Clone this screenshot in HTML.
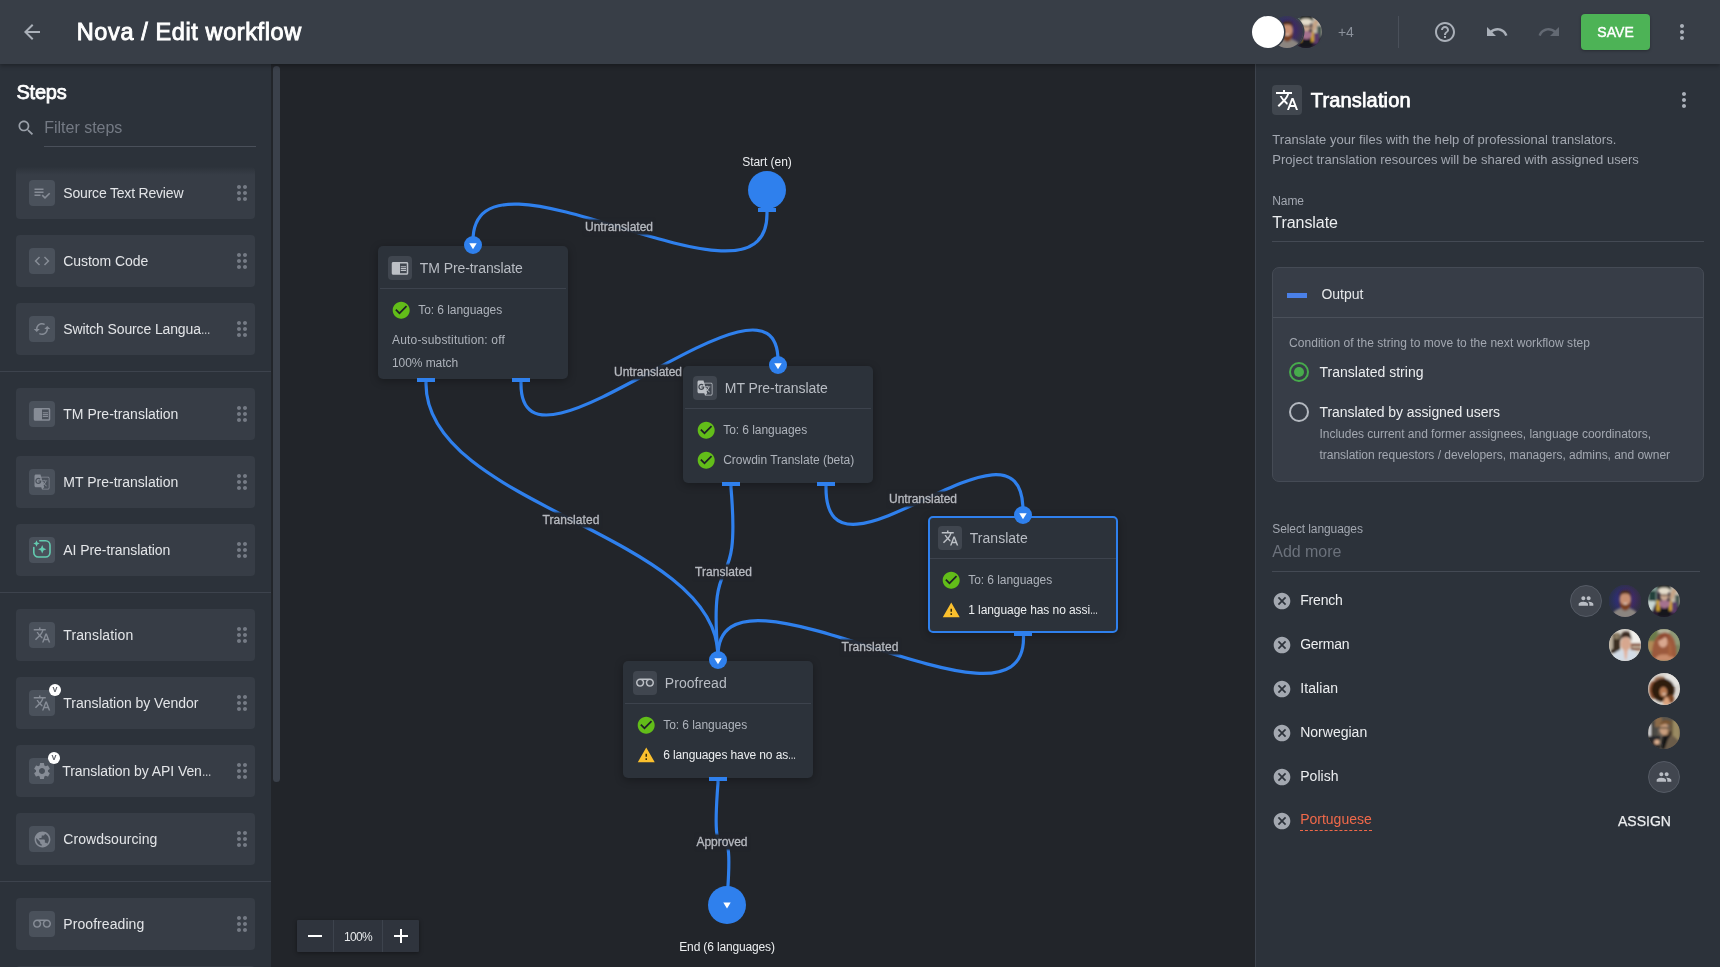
<!DOCTYPE html>
<html lang="en"><head><meta charset="utf-8"><title>Nova / Edit workflow</title>
<style>
html,body{margin:0;padding:0}
body{width:1720px;height:967px;overflow:hidden;position:relative;background:#22252a;font-family:"Liberation Sans",sans-serif;}
.abs,.t,.ic,.box{position:absolute}
.t{white-space:nowrap;line-height:20px;height:20px}
.ic{display:block;overflow:visible}
.el{display:inline-block;width:.677em;letter-spacing:0;transform:scaleX(.677);transform-origin:0 50%}
#header{left:0;top:0;width:1720px;height:64px;background:#383e47;box-shadow:0 2px 4px rgba(0,0,0,.28);z-index:5}
#left{left:0;top:64px;width:271px;height:903px;background:#2c323a;overflow:hidden}
#lscroll{left:271px;top:64px;width:9px;height:903px;background:transparent}
#lthumb{left:273px;top:66px;width:7px;height:716px;background:#3b414b;border-radius:4px}
#right{left:1255px;top:64px;width:465px;height:903px;background:#2c323a;border-left:1px solid #3d434d;box-sizing:border-box}
.item{left:16px;width:239px;height:52px;background:#373d46;border-radius:4px}
.ibox{background:#4a515b;border-radius:4px}
.sep{left:0;width:271px;height:1px;background:#3d434d}
.node{background:#2c323a;border-radius:5px;box-shadow:0 2px 8px rgba(0,0,0,.3);box-sizing:border-box}
.ndiv{height:1px;background:#3d434d}
.port{height:4px;width:18px;background:#2f80ed}
.av{width:32px;height:32px;border-radius:50%;overflow:hidden}
</style></head><body>
<div id="root" style="position:absolute;left:0;top:0;width:1720px;height:967px;will-change:transform">
<svg width="0" height="0" style="position:absolute"><defs><filter id="bl" x="-10%" y="-10%" width="120%" height="120%"><feGaussianBlur stdDeviation="0.9"/></filter></defs></svg>

<svg class="abs" style="left:0;top:0" width="1720" height="967" viewBox="0 0 1720 967">
<path d="M767,209 L767,214 C767,330 473,125 473,241 L473,246" fill="none" stroke="#2f80ed" stroke-width="3.2" stroke-linecap="butt" stroke-linejoin="round"/>
<path d="M521,379 L521,384 C521,500 778,245 778,361 L778,366" fill="none" stroke="#2f80ed" stroke-width="3.2" stroke-linecap="butt" stroke-linejoin="round"/>
<path d="M426,379 L426,384 C426,506 718,534 718,656 L718,661" fill="none" stroke="#2f80ed" stroke-width="3.2" stroke-linecap="butt" stroke-linejoin="round"/>
<path d="M731,483 L731,488 C741,606 708,538 718,656 L718,661" fill="none" stroke="#2f80ed" stroke-width="3.2" stroke-linecap="butt" stroke-linejoin="round"/>
<path d="M826,483 L826,488 C826,604 1023,395 1023,511 L1023,516" fill="none" stroke="#2f80ed" stroke-width="3.2" stroke-linecap="butt" stroke-linejoin="round"/>
<path d="M1023.5,633 L1023.5,638 C1023.5,753 718,541 718,656 L718,661" fill="none" stroke="#2f80ed" stroke-width="3.2" stroke-linecap="butt" stroke-linejoin="round"/>
<path d="M718,778 L718,783 C709,899 736,784 727,900 L727,905" fill="none" stroke="#2f80ed" stroke-width="3.2" stroke-linecap="butt" stroke-linejoin="round"/>
</svg>
<div class="abs" style="left:585.0px;top:220.0px;width:68.0px;height:14px;background:rgba(34,37,42,.93);box-shadow:0 0 1.5px 1px rgba(34,37,42,.8)"></div>
<div class="t " style="left:585.00px;top:217.14px;font-size:12px;color:#b7bac0;letter-spacing:-0.003px;-webkit-text-stroke:0.32px #b7bac0;">Untranslated</div>
<div class="abs" style="left:614.0px;top:365.0px;width:68.0px;height:14px;background:rgba(34,37,42,.93);box-shadow:0 0 1.5px 1px rgba(34,37,42,.8)"></div>
<div class="t " style="left:614.00px;top:362.14px;font-size:12px;color:#b7bac0;letter-spacing:-0.003px;-webkit-text-stroke:0.32px #b7bac0;">Untranslated</div>
<div class="abs" style="left:889.0px;top:492.0px;width:68.0px;height:14px;background:rgba(34,37,42,.93);box-shadow:0 0 1.5px 1px rgba(34,37,42,.8)"></div>
<div class="t " style="left:889.00px;top:489.14px;font-size:12px;color:#b7bac0;letter-spacing:-0.003px;-webkit-text-stroke:0.32px #b7bac0;">Untranslated</div>
<div class="abs" style="left:542.5px;top:513.0px;width:57.0px;height:14px;background:rgba(34,37,42,.93);box-shadow:0 0 1.5px 1px rgba(34,37,42,.8)"></div>
<div class="t " style="left:542.50px;top:510.14px;font-size:12px;color:#b7bac0;letter-spacing:0.075px;-webkit-text-stroke:0.32px #b7bac0;">Translated</div>
<div class="abs" style="left:695.0px;top:565.0px;width:57.0px;height:14px;background:rgba(34,37,42,.93);box-shadow:0 0 1.5px 1px rgba(34,37,42,.8)"></div>
<div class="t " style="left:695.00px;top:562.14px;font-size:12px;color:#b7bac0;letter-spacing:0.075px;-webkit-text-stroke:0.32px #b7bac0;">Translated</div>
<div class="abs" style="left:841.5px;top:640.0px;width:57.0px;height:14px;background:rgba(34,37,42,.93);box-shadow:0 0 1.5px 1px rgba(34,37,42,.8)"></div>
<div class="t " style="left:841.50px;top:637.14px;font-size:12px;color:#b7bac0;letter-spacing:0.075px;-webkit-text-stroke:0.32px #b7bac0;">Translated</div>
<div class="abs" style="left:696.5px;top:835.0px;width:51.0px;height:14px;background:rgba(34,37,42,.93);box-shadow:0 0 1.5px 1px rgba(34,37,42,.8)"></div>
<div class="t " style="left:696.50px;top:832.14px;font-size:12px;color:#b7bac0;letter-spacing:-0.046px;-webkit-text-stroke:0.32px #b7bac0;">Approved</div>
<div class="t " style="left:742.25px;top:152.04px;font-size:12px;color:#eceef0;letter-spacing:-0.051px;">Start (en)</div>
<div class="abs" style="left:748px;top:171px;width:38px;height:38px;border-radius:50%;background:#2f80ed"></div>
<div class="abs port" style="left:758px;top:208px"></div>
<div class="abs node" style="left:378px;top:246px;width:190px;height:133px;"></div>
<div class="abs ndiv" style="left:380px;top:288px;width:186px"></div>
<div class="abs ibox" style="left:388.2px;top:256.3px;width:24px;height:24px;background:#40464f"></div>
<svg class="ic" style="left:391.20px;top:259.30px" width="18" height="18" viewBox="0 0 24 24" ><path fill="#bcc0c6" d="M13 12h7v1.5h-7zm0-2.5h7V11h-7zm0 5h7V16h-7zM21 4H3c-1.1 0-2 .9-2 2v13c0 1.1.9 2 2 2h18c1.1 0 2-.9 2-2V6c0-1.1-.9-2-2-2zm0 15h-9V6h9v13z"/></svg>
<div class="t " style="left:419.80px;top:257.95px;font-size:14px;color:#b9bdc4;letter-spacing:-0.078px;">TM Pre-translate</div>
<svg class="ic" style="left:390.8px;top:299.8px" width="20.4" height="20.4" viewBox="0 0 24 24"><circle cx="12" cy="12" r="9" fill="#1d2126"/><path fill="#62bd19" d="M12 2C6.48 2 2 6.48 2 12s4.48 10 10 10 10-4.48 10-10S17.52 2 12 2zm-2 15l-5-5 1.41-1.41L10 14.17l7.59-7.59L19 8l-9 9z"/></svg>
<div class="t " style="left:418.20px;top:300.04px;font-size:12px;color:#aeb3bb;letter-spacing:-0.048px;">To: 6 languages</div>
<div class="t " style="left:392.00px;top:330.04px;font-size:12px;color:#aeb3bb;letter-spacing:0.174px;">Auto-substitution: off</div>
<div class="t " style="left:392.00px;top:353.04px;font-size:12px;color:#aeb3bb;letter-spacing:-0.070px;">100% match</div>
<div class="abs port" style="left:417px;top:378px"></div>
<div class="abs port" style="left:512px;top:378px"></div>
<svg class="ic" style="left:464px;top:235.7px" width="18" height="18" viewBox="0 0 18 18"><circle cx="9" cy="9" r="9" fill="#2f80ed"/><path d="M5.3 7.2h7.4L9 13.2z" fill="#fff"/></svg>
<div class="abs node" style="left:683px;top:366px;width:190px;height:117px;"></div>
<div class="abs ndiv" style="left:685px;top:408px;width:186px"></div>
<div class="abs ibox" style="left:693.2px;top:376.3px;width:24px;height:24px;background:#40464f"></div>
<svg class="ic" style="left:696.20px;top:379.30px" width="18" height="18" viewBox="0 0 24 24" ><path fill="#bcc0c6" d="M20 5h-9.12L10 2H4c-1.1 0-2 .9-2 2v13c0 1.1.9 2 2 2h7l1 3h8c1.1 0 2-.9 2-2V7c0-1.1-.9-2-2-2zM7.17 14.59c-2.25 0-4.09-1.83-4.09-4.09s1.83-4.09 4.09-4.09c1.04 0 1.99.37 2.74 1.07l.07.06-1.23 1.18-.06-.05c-.29-.27-.78-.59-1.52-.59-1.31 0-2.38 1.09-2.38 2.42s1.07 2.42 2.38 2.42c1.37 0 1.96-.87 2.12-1.46H7.08V9.91h3.95l.01.07c.04.21.05.4.05.61 0 2.35-1.61 4-3.92 4zm6.03-1.71c.33.6.74 1.18 1.19 1.7l-.54.53-.65-2.23zm.77-.76h-.99l-.31-1.04h3.99s-.34 1.31-1.56 2.74c-.52-.62-.89-1.23-1.13-1.7zM21 20c0 .55-.45 1-1 1h-7l2-2-.81-2.77.92-.92L17.79 18l.73-.73-2.71-2.68c.9-1.03 1.6-2.25 1.92-3.51H19v-1.04h-3.64V9h-1.04v1.04h-1.96L11.18 6H20c.55 0 1 .45 1 1v13z"/></svg>
<div class="t " style="left:724.80px;top:377.95px;font-size:14px;color:#b9bdc4;letter-spacing:-0.062px;">MT Pre-translate</div>
<svg class="ic" style="left:695.8px;top:419.8px" width="20.4" height="20.4" viewBox="0 0 24 24"><circle cx="12" cy="12" r="9" fill="#1d2126"/><path fill="#62bd19" d="M12 2C6.48 2 2 6.48 2 12s4.48 10 10 10 10-4.48 10-10S17.52 2 12 2zm-2 15l-5-5 1.41-1.41L10 14.17l7.59-7.59L19 8l-9 9z"/></svg>
<div class="t " style="left:723.20px;top:420.04px;font-size:12px;color:#aeb3bb;letter-spacing:-0.048px;">To: 6 languages</div>
<svg class="ic" style="left:695.8px;top:449.8px" width="20.4" height="20.4" viewBox="0 0 24 24"><circle cx="12" cy="12" r="9" fill="#1d2126"/><path fill="#62bd19" d="M12 2C6.48 2 2 6.48 2 12s4.48 10 10 10 10-4.48 10-10S17.52 2 12 2zm-2 15l-5-5 1.41-1.41L10 14.17l7.59-7.59L19 8l-9 9z"/></svg>
<div class="t " style="left:723.20px;top:450.04px;font-size:12px;color:#aeb3bb;letter-spacing:-0.016px;">Crowdin Translate (beta)</div>
<div class="abs port" style="left:722px;top:482px"></div>
<div class="abs port" style="left:817px;top:482px"></div>
<svg class="ic" style="left:769px;top:355.7px" width="18" height="18" viewBox="0 0 18 18"><circle cx="9" cy="9" r="9" fill="#2f80ed"/><path d="M5.3 7.2h7.4L9 13.2z" fill="#fff"/></svg>
<div class="abs node" style="left:928px;top:516px;width:190px;height:117px;border:2px solid #2f80ed;"></div>
<div class="abs ndiv" style="left:930px;top:558px;width:186px"></div>
<div class="abs ibox" style="left:938.2px;top:526.3px;width:24px;height:24px;background:#40464f"></div>
<svg class="ic" style="left:941.20px;top:529.30px" width="18" height="18" viewBox="0 0 24 24" ><path fill="#bcc0c6" d="M12.87 15.07l-2.54-2.51.03-.03c1.74-1.94 2.98-4.17 3.71-6.53H17V4h-7V2H8v2H1v1.99h11.17C11.5 7.92 10.44 9.75 9 11.35 8.07 10.32 7.3 9.19 6.69 8h-2c.73 1.63 1.73 3.17 2.98 4.56l-5.09 5.02L4 19l5-5 3.11 3.11.76-2.04zM18.5 10h-2L12 22h2l1.12-3h4.75L21 22h2l-4.5-12zm-2.62 7l1.62-4.33L19.12 17h-3.24z"/></svg>
<div class="t " style="left:969.80px;top:527.95px;font-size:14px;color:#b9bdc4;letter-spacing:0.018px;">Translate</div>
<svg class="ic" style="left:940.8px;top:569.8px" width="20.4" height="20.4" viewBox="0 0 24 24"><circle cx="12" cy="12" r="9" fill="#1d2126"/><path fill="#62bd19" d="M12 2C6.48 2 2 6.48 2 12s4.48 10 10 10 10-4.48 10-10S17.52 2 12 2zm-2 15l-5-5 1.41-1.41L10 14.17l7.59-7.59L19 8l-9 9z"/></svg>
<div class="t " style="left:968.20px;top:570.04px;font-size:12px;color:#aeb3bb;letter-spacing:-0.048px;">To: 6 languages</div>
<svg class="ic" style="left:941.85px;top:601.3000000000001px" width="18.5" height="18.5" viewBox="0 0 24 24"><path d="M11 9h2v10h-2z" fill="#3a2c00"/><path fill="#fbc02d" d="M1 21h22L12 2 1 21zm12-3h-2v-2h2v2zm0-4h-2v-4h2v4z"/></svg>
<div class="t " style="left:968.20px;top:600.24px;font-size:12px;color:#eceef0;letter-spacing:-0.070px;">1 language has no assi<span class="el">…</span></div>
<div class="abs port" style="left:1014px;top:632px"></div>
<svg class="ic" style="left:1014px;top:505.70000000000005px" width="18" height="18" viewBox="0 0 18 18"><circle cx="9" cy="9" r="9" fill="#2f80ed"/><path d="M5.3 7.2h7.4L9 13.2z" fill="#fff"/></svg>
<div class="abs node" style="left:623px;top:661px;width:190px;height:117px;"></div>
<div class="abs ndiv" style="left:625px;top:703px;width:186px"></div>
<div class="abs ibox" style="left:633.2px;top:671.3px;width:24px;height:24px;background:#40464f"></div>
<svg class="ic" style="left:636.20px;top:674.30px" width="18" height="18" viewBox="0 0 24 24"><path transform="translate(0,23) scale(1,-1)" fill="#bcc0c6" d="M18.5 6C15.46 6 13 8.46 13 11.5c0 1.33.47 2.55 1.26 3.5H9.74c.79-.95 1.26-2.17 1.26-3.5C11 8.46 8.54 6 5.5 6S0 8.46 0 11.5 2.46 17 5.5 17h13c3.04 0 5.5-2.46 5.5-5.5S21.54 6 18.5 6zm-13 9C3.57 15 2 13.43 2 11.5S3.57 8 5.5 8 9 9.57 9 11.5 7.43 15 5.5 15zm13 0c-1.930 0-3.5-1.57-3.5-3.5S16.57 8 18.5 8 22 9.57 22 11.5 20.430 15 18.5 15z"/></svg>
<div class="t " style="left:664.80px;top:672.95px;font-size:14px;color:#b9bdc4;letter-spacing:0.058px;">Proofread</div>
<svg class="ic" style="left:635.8px;top:714.8px" width="20.4" height="20.4" viewBox="0 0 24 24"><circle cx="12" cy="12" r="9" fill="#1d2126"/><path fill="#62bd19" d="M12 2C6.48 2 2 6.48 2 12s4.48 10 10 10 10-4.48 10-10S17.52 2 12 2zm-2 15l-5-5 1.41-1.41L10 14.17l7.59-7.59L19 8l-9 9z"/></svg>
<div class="t " style="left:663.20px;top:715.04px;font-size:12px;color:#aeb3bb;letter-spacing:-0.048px;">To: 6 languages</div>
<svg class="ic" style="left:636.85px;top:746.3000000000001px" width="18.5" height="18.5" viewBox="0 0 24 24"><path d="M11 9h2v10h-2z" fill="#3a2c00"/><path fill="#fbc02d" d="M1 21h22L12 2 1 21zm12-3h-2v-2h2v2zm0-4h-2v-4h2v4z"/></svg>
<div class="t " style="left:663.20px;top:745.24px;font-size:12px;color:#eceef0;letter-spacing:-0.116px;">6 languages have no as<span class="el">…</span></div>
<div class="abs port" style="left:709px;top:777px"></div>
<svg class="ic" style="left:709px;top:650.7px" width="18" height="18" viewBox="0 0 18 18"><circle cx="9" cy="9" r="9" fill="#2f80ed"/><path d="M5.3 7.2h7.4L9 13.2z" fill="#fff"/></svg>
<svg class="ic" style="left:708px;top:886px" width="38" height="38" viewBox="0 0 38 38"><circle cx="19" cy="19" r="19" fill="#2f80ed"/><path d="M15.3 16.6h7.4L19 22.6z" fill="#fff"/></svg>
<div class="t " style="left:679.25px;top:937.14px;font-size:12px;color:#eceef0;letter-spacing:-0.151px;">End (6 languages)</div>
<div class="abs" style="left:297px;top:920px;width:122px;height:32px;background:#2f343d;border-radius:1px;box-shadow:0 1px 4px rgba(0,0,0,.4)"></div>
<div class="abs" style="left:333px;top:920px;width:1px;height:32px;background:#3d434d"></div>
<div class="abs" style="left:382px;top:920px;width:1px;height:32px;background:#3d434d"></div>
<svg class="ic" style="left:303.00px;top:924.00px" width="24" height="24" viewBox="0 0 24 24" ><path fill="#ffffff" d="M19 13H5v-2h14v2z"/></svg>
<svg class="ic" style="left:389.00px;top:924.00px" width="24" height="24" viewBox="0 0 24 24" ><path fill="#ffffff" d="M19 13h-6v6h-2v-6H5v-2h6V5h2v6h6v2z"/></svg>
<div class="t " style="left:344.00px;top:926.84px;font-size:12px;color:#e6e8ea;letter-spacing:-0.673px;">100%</div>
<div id="left" class="abs"></div><div id="lscroll" class="abs"></div><div id="lthumb" class="abs"></div>
<div class="t " style="left:16.40px;top:81.67px;font-size:20px;color:#ffffff;letter-spacing:-0.188px;-webkit-text-stroke:0.75px #ffffff;">Steps</div>
<svg class="ic" style="left:15.50px;top:118.00px" width="20" height="20" viewBox="0 0 24 24" ><path fill="#9aa0a9" d="M15.5 14h-.79l-.28-.27C15.41 12.59 16 11.11 16 9.5 16 5.91 13.09 3 9.5 3S3 5.91 3 9.5 5.91 16 9.5 16c1.61 0 3.09-.59 4.23-1.57l.27.28v.79l5 4.99L20.49 19l-4.99-5zm-6 0C7.01 14 5 11.99 5 9.5S7.01 5 9.5 5 14 7.01 14 9.5 11.99 14 9.5 14z"/></svg>
<div class="t " style="left:44.30px;top:118.16px;font-size:16px;color:#747a84;letter-spacing:-0.020px;">Filter steps</div>
<div class="abs" style="left:44px;top:146px;width:212px;height:1px;background:#4a505a"></div>
<div class="abs item" style="top:167px"></div>
<div class="abs ibox" style="left:29px;top:180px;width:26px;height:26px"></div>
<svg class="ic" style="left:33.00px;top:184.00px" width="18" height="18" viewBox="0 0 24 24" ><path fill="#868c96" d="M14 10H2v2h12v-2zm0-4H2v2h12V6zM2 16h8v-2H2v2zm19.5-4.5L23 13l-6.99 7-4.51-4.5L13 14l3.01 3 5.49-5.5z"/></svg>
<div class="t " style="left:63.30px;top:183.05px;font-size:14px;color:#e3e5e8;letter-spacing:-0.192px;">Source Text Review</div>
<svg class="ic" style="left:230.00px;top:181.00px" width="24" height="24" viewBox="0 0 24 24" ><path fill="#757b85" d="M11 18c0 1.1-.9 2-2 2s-2-.9-2-2 .9-2 2-2 2 .9 2 2zm-2-8c-1.1 0-2 .9-2 2s.9 2 2 2 2-.9 2-2-.9-2-2-2zm0-6c-1.1 0-2 .9-2 2s.9 2 2 2 2-.9 2-2-.9-2-2-2zm6 4c1.1 0 2-.9 2-2s-.9-2-2-2-2 .9-2 2 .9 2 2 2zm0 2c-1.1 0-2 .9-2 2s.9 2 2 2 2-.9 2-2-.9-2-2-2zm0 6c-1.1 0-2 .9-2 2s.9 2 2 2 2-.9 2-2-.9-2-2-2z"/></svg>
<div class="abs item" style="top:235px"></div>
<div class="abs ibox" style="left:29px;top:248px;width:26px;height:26px"></div>
<svg class="ic" style="left:33.00px;top:252.00px" width="18" height="18" viewBox="0 0 24 24" ><path fill="#868c96" d="M9.4 16.6L4.8 12l4.6-4.6L8 6l-6 6 6 6 1.4-1.4zm5.2 0l4.6-4.6-4.6-4.6L16 6l6 6-6 6-1.4-1.4z"/></svg>
<div class="t " style="left:63.30px;top:251.05px;font-size:14px;color:#e3e5e8;letter-spacing:-0.053px;">Custom Code</div>
<svg class="ic" style="left:230.00px;top:249.00px" width="24" height="24" viewBox="0 0 24 24" ><path fill="#757b85" d="M11 18c0 1.1-.9 2-2 2s-2-.9-2-2 .9-2 2-2 2 .9 2 2zm-2-8c-1.1 0-2 .9-2 2s.9 2 2 2 2-.9 2-2-.9-2-2-2zm0-6c-1.1 0-2 .9-2 2s.9 2 2 2 2-.9 2-2-.9-2-2-2zm6 4c1.1 0 2-.9 2-2s-.9-2-2-2-2 .9-2 2 .9 2 2 2zm0 2c-1.1 0-2 .9-2 2s.9 2 2 2 2-.9 2-2-.9-2-2-2zm0 6c-1.1 0-2 .9-2 2s.9 2 2 2 2-.9 2-2-.9-2-2-2z"/></svg>
<div class="abs item" style="top:303px"></div>
<div class="abs ibox" style="left:29px;top:316px;width:26px;height:26px"></div>
<svg class="ic" style="left:33.00px;top:320.00px" width="18" height="18" viewBox="0 0 24 24" ><path fill="#868c96" d="M19 8l-4 4h3c0 3.31-2.69 6-6 6-1.01 0-1.97-.25-2.8-.7l-1.46 1.46C8.97 19.54 10.43 20 12 20c4.42 0 8-3.58 8-8h3l-4-4zM6 12c0-3.31 2.69-6 6-6 1.01 0 1.97.25 2.8.7l1.46-1.46C15.03 4.46 13.57 4 12 4c-4.42 0-8 3.58-8 8H1l4 4 4-4H6z"/></svg>
<div class="t " style="left:63.30px;top:319.05px;font-size:14px;color:#e3e5e8;letter-spacing:-0.128px;">Switch Source Langua<span class="el">…</span></div>
<svg class="ic" style="left:230.00px;top:317.00px" width="24" height="24" viewBox="0 0 24 24" ><path fill="#757b85" d="M11 18c0 1.1-.9 2-2 2s-2-.9-2-2 .9-2 2-2 2 .9 2 2zm-2-8c-1.1 0-2 .9-2 2s.9 2 2 2 2-.9 2-2-.9-2-2-2zm0-6c-1.1 0-2 .9-2 2s.9 2 2 2 2-.9 2-2-.9-2-2-2zm6 4c1.1 0 2-.9 2-2s-.9-2-2-2-2 .9-2 2 .9 2 2 2zm0 2c-1.1 0-2 .9-2 2s.9 2 2 2 2-.9 2-2-.9-2-2-2zm0 6c-1.1 0-2 .9-2 2s.9 2 2 2 2-.9 2-2-.9-2-2-2z"/></svg>
<div class="abs item" style="top:388px"></div>
<div class="abs ibox" style="left:29px;top:401px;width:26px;height:26px"></div>
<svg class="ic" style="left:33.00px;top:405.00px" width="18" height="18" viewBox="0 0 24 24" ><path fill="#868c96" d="M13 12h7v1.5h-7zm0-2.5h7V11h-7zm0 5h7V16h-7zM21 4H3c-1.1 0-2 .9-2 2v13c0 1.1.9 2 2 2h18c1.1 0 2-.9 2-2V6c0-1.1-.9-2-2-2zm0 15h-9V6h9v13z"/></svg>
<div class="t " style="left:63.30px;top:404.05px;font-size:14px;color:#e3e5e8;letter-spacing:-0.008px;">TM Pre-translation</div>
<svg class="ic" style="left:230.00px;top:402.00px" width="24" height="24" viewBox="0 0 24 24" ><path fill="#757b85" d="M11 18c0 1.1-.9 2-2 2s-2-.9-2-2 .9-2 2-2 2 .9 2 2zm-2-8c-1.1 0-2 .9-2 2s.9 2 2 2 2-.9 2-2-.9-2-2-2zm0-6c-1.1 0-2 .9-2 2s.9 2 2 2 2-.9 2-2-.9-2-2-2zm6 4c1.1 0 2-.9 2-2s-.9-2-2-2-2 .9-2 2 .9 2 2 2zm0 2c-1.1 0-2 .9-2 2s.9 2 2 2 2-.9 2-2-.9-2-2-2zm0 6c-1.1 0-2 .9-2 2s.9 2 2 2 2-.9 2-2-.9-2-2-2z"/></svg>
<div class="abs item" style="top:456px"></div>
<div class="abs ibox" style="left:29px;top:469px;width:26px;height:26px"></div>
<svg class="ic" style="left:33.00px;top:473.00px" width="18" height="18" viewBox="0 0 24 24" ><path fill="#868c96" d="M20 5h-9.12L10 2H4c-1.1 0-2 .9-2 2v13c0 1.1.9 2 2 2h7l1 3h8c1.1 0 2-.9 2-2V7c0-1.1-.9-2-2-2zM7.17 14.59c-2.25 0-4.09-1.83-4.09-4.09s1.83-4.09 4.09-4.09c1.04 0 1.99.37 2.74 1.07l.07.06-1.23 1.18-.06-.05c-.29-.27-.78-.59-1.52-.59-1.31 0-2.38 1.09-2.38 2.42s1.07 2.42 2.38 2.42c1.37 0 1.96-.87 2.12-1.46H7.08V9.91h3.95l.01.07c.04.21.05.4.05.61 0 2.35-1.61 4-3.92 4zm6.03-1.71c.33.6.74 1.18 1.19 1.7l-.54.53-.65-2.23zm.77-.76h-.99l-.31-1.04h3.99s-.34 1.31-1.56 2.74c-.52-.62-.89-1.23-1.13-1.7zM21 20c0 .55-.45 1-1 1h-7l2-2-.81-2.77.92-.92L17.79 18l.73-.73-2.71-2.68c.9-1.03 1.6-2.25 1.92-3.51H19v-1.04h-3.64V9h-1.04v1.04h-1.96L11.18 6H20c.55 0 1 .45 1 1v13z"/></svg>
<div class="t " style="left:63.30px;top:472.05px;font-size:14px;color:#e3e5e8;letter-spacing:0.006px;">MT Pre-translation</div>
<svg class="ic" style="left:230.00px;top:470.00px" width="24" height="24" viewBox="0 0 24 24" ><path fill="#757b85" d="M11 18c0 1.1-.9 2-2 2s-2-.9-2-2 .9-2 2-2 2 .9 2 2zm-2-8c-1.1 0-2 .9-2 2s.9 2 2 2 2-.9 2-2-.9-2-2-2zm0-6c-1.1 0-2 .9-2 2s.9 2 2 2 2-.9 2-2-.9-2-2-2zm6 4c1.1 0 2-.9 2-2s-.9-2-2-2-2 .9-2 2 .9 2 2 2zm0 2c-1.1 0-2 .9-2 2s.9 2 2 2 2-.9 2-2-.9-2-2-2zm0 6c-1.1 0-2 .9-2 2s.9 2 2 2 2-.9 2-2-.9-2-2-2z"/></svg>
<div class="abs item" style="top:524px"></div>
<div class="abs ibox" style="left:29px;top:537px;width:26px;height:26px"></div>
<svg class="ic" style="left:32px;top:539px" width="20" height="20" viewBox="0 0 20 20" fill="none" stroke="#63cbb0" stroke-width="1.6" stroke-linecap="round" stroke-linejoin="round"><path d="M7.800 1.800H13.600a4.400 4.400 0 0 1 4.400 4.400v7.400a4.400 4.400 0 0 1-4.400 4.400H6.200a4.400 4.400 0 0 1-4.400-4.400V8.600"/><path d="M10.200 6.100l1.250 2.950 2.950 1.250-2.950 1.250-1.250 2.950-1.250-2.950-2.950-1.250 2.950-1.250z" fill="#63cbb0" stroke="none"/><path d="M4.500 1.300l.95 2.250 2.250.95-2.250.95-.95 2.250-.95-2.250-2.250-.95 2.250-.95z" fill="#63cbb0" stroke="none"/></svg>
<div class="t " style="left:63.30px;top:540.05px;font-size:14px;color:#e3e5e8;letter-spacing:-0.064px;">AI Pre-translation</div>
<svg class="ic" style="left:230.00px;top:538.00px" width="24" height="24" viewBox="0 0 24 24" ><path fill="#757b85" d="M11 18c0 1.1-.9 2-2 2s-2-.9-2-2 .9-2 2-2 2 .9 2 2zm-2-8c-1.1 0-2 .9-2 2s.9 2 2 2 2-.9 2-2-.9-2-2-2zm0-6c-1.1 0-2 .9-2 2s.9 2 2 2 2-.9 2-2-.9-2-2-2zm6 4c1.1 0 2-.9 2-2s-.9-2-2-2-2 .9-2 2 .9 2 2 2zm0 2c-1.1 0-2 .9-2 2s.9 2 2 2 2-.9 2-2-.9-2-2-2zm0 6c-1.1 0-2 .9-2 2s.9 2 2 2 2-.9 2-2-.9-2-2-2z"/></svg>
<div class="abs item" style="top:609px"></div>
<div class="abs ibox" style="left:29px;top:622px;width:26px;height:26px"></div>
<svg class="ic" style="left:33.00px;top:626.00px" width="18" height="18" viewBox="0 0 24 24" ><path fill="#868c96" d="M12.87 15.07l-2.54-2.51.03-.03c1.74-1.94 2.98-4.17 3.71-6.53H17V4h-7V2H8v2H1v1.99h11.17C11.5 7.92 10.44 9.75 9 11.35 8.07 10.32 7.3 9.19 6.69 8h-2c.73 1.63 1.73 3.17 2.98 4.56l-5.09 5.02L4 19l5-5 3.11 3.11.76-2.04zM18.5 10h-2L12 22h2l1.12-3h4.75L21 22h2l-4.5-12zm-2.62 7l1.62-4.33L19.12 17h-3.24z"/></svg>
<div class="t " style="left:63.30px;top:625.05px;font-size:14px;color:#e3e5e8;letter-spacing:0.115px;">Translation</div>
<svg class="ic" style="left:230.00px;top:623.00px" width="24" height="24" viewBox="0 0 24 24" ><path fill="#757b85" d="M11 18c0 1.1-.9 2-2 2s-2-.9-2-2 .9-2 2-2 2 .9 2 2zm-2-8c-1.1 0-2 .9-2 2s.9 2 2 2 2-.9 2-2-.9-2-2-2zm0-6c-1.1 0-2 .9-2 2s.9 2 2 2 2-.9 2-2-.9-2-2-2zm6 4c1.1 0 2-.9 2-2s-.9-2-2-2-2 .9-2 2 .9 2 2 2zm0 2c-1.1 0-2 .9-2 2s.9 2 2 2 2-.9 2-2-.9-2-2-2zm0 6c-1.1 0-2 .9-2 2s.9 2 2 2 2-.9 2-2-.9-2-2-2z"/></svg>
<div class="abs item" style="top:677px"></div>
<div class="abs ibox" style="left:29px;top:690px;width:26px;height:26px"></div>
<svg class="ic" style="left:33.00px;top:694.00px" width="18" height="18" viewBox="0 0 24 24" ><path fill="#868c96" d="M12.87 15.07l-2.54-2.51.03-.03c1.74-1.94 2.98-4.17 3.71-6.53H17V4h-7V2H8v2H1v1.99h11.17C11.5 7.92 10.44 9.75 9 11.35 8.07 10.32 7.3 9.19 6.69 8h-2c.73 1.63 1.73 3.17 2.98 4.56l-5.09 5.02L4 19l5-5 3.11 3.11.76-2.04zM18.5 10h-2L12 22h2l1.12-3h4.75L21 22h2l-4.5-12zm-2.62 7l1.62-4.33L19.12 17h-3.24z"/></svg>
<div class="t " style="left:63.30px;top:693.05px;font-size:14px;color:#e3e5e8;letter-spacing:-0.032px;">Translation by Vendor</div>
<svg class="ic" style="left:230.00px;top:691.00px" width="24" height="24" viewBox="0 0 24 24" ><path fill="#757b85" d="M11 18c0 1.1-.9 2-2 2s-2-.9-2-2 .9-2 2-2 2 .9 2 2zm-2-8c-1.1 0-2 .9-2 2s.9 2 2 2 2-.9 2-2-.9-2-2-2zm0-6c-1.1 0-2 .9-2 2s.9 2 2 2 2-.9 2-2-.9-2-2-2zm6 4c1.1 0 2-.9 2-2s-.9-2-2-2-2 .9-2 2 .9 2 2 2zm0 2c-1.1 0-2 .9-2 2s.9 2 2 2 2-.9 2-2-.9-2-2-2zm0 6c-1.1 0-2 .9-2 2s.9 2 2 2 2-.9 2-2-.9-2-2-2z"/></svg>
<div class="abs item" style="top:745px"></div>
<div class="abs ibox" style="left:29px;top:758px;width:25px;height:26px"></div>
<svg class="ic" style="left:31.50px;top:761.00px" width="20" height="20" viewBox="0 0 24 24" ><path fill="#868c96" d="M19.14 12.94c.04-.3.06-.61.06-.94 0-.32-.02-.64-.07-.94l2.03-1.58c.18-.14.23-.41.12-.61l-1.92-3.32c-.12-.22-.37-.29-.59-.22l-2.39.96c-.5-.38-1.03-.7-1.62-.94l-.36-2.54c-.04-.24-.24-.41-.48-.41h-3.84c-.24 0-.43.17-.47.41l-.36 2.54c-.59.24-1.13.57-1.62.94l-2.39-.96c-.22-.08-.47 0-.59.22L2.74 8.87c-.12.21-.08.47.12.61l2.03 1.58c-.05.3-.09.63-.09.94s.02.64.07.94l-2.03 1.58c-.18.14-.23.41-.12.61l1.92 3.32c.12.22.37.29.59.22l2.39-.96c.5.38 1.03.7 1.62.94l.36 2.54c.05.24.24.41.48.41h3.84c.24 0 .44-.17.47-.41l.36-2.54c.59-.24 1.13-.56 1.62-.94l2.39.96c.22.08.47 0 .59-.22l1.92-3.32c.12-.22.07-.47-.12-.61l-2.01-1.58zM12 15.6c-1.98 0-3.6-1.62-3.6-3.6s1.62-3.6 3.6-3.6 3.6 1.62 3.6 3.6-1.62 3.6-3.6 3.6z"/></svg>
<div class="t " style="left:62.30px;top:761.05px;font-size:14px;color:#e3e5e8;letter-spacing:-0.072px;">Translation by API Ven<span class="el">…</span></div>
<svg class="ic" style="left:230.00px;top:759.00px" width="24" height="24" viewBox="0 0 24 24" ><path fill="#757b85" d="M11 18c0 1.1-.9 2-2 2s-2-.9-2-2 .9-2 2-2 2 .9 2 2zm-2-8c-1.1 0-2 .9-2 2s.9 2 2 2 2-.9 2-2-.9-2-2-2zm0-6c-1.1 0-2 .9-2 2s.9 2 2 2 2-.9 2-2-.9-2-2-2zm6 4c1.1 0 2-.9 2-2s-.9-2-2-2-2 .9-2 2 .9 2 2 2zm0 2c-1.1 0-2 .9-2 2s.9 2 2 2 2-.9 2-2-.9-2-2-2zm0 6c-1.1 0-2 .9-2 2s.9 2 2 2 2-.9 2-2-.9-2-2-2z"/></svg>
<div class="abs item" style="top:813px"></div>
<div class="abs ibox" style="left:29px;top:826px;width:26px;height:26px"></div>
<svg class="ic" style="left:32.50px;top:829.50px" width="19" height="19" viewBox="0 0 24 24" ><path fill="#868c96" d="M12 2C6.48 2 2 6.48 2 12s4.48 10 10 10 10-4.48 10-10S17.52 2 12 2zm-1 17.93c-3.95-.49-7-3.85-7-7.93 0-.62.08-1.21.21-1.79L9 15v1c0 1.1.9 2 2 2v1.93zm6.9-2.54c-.26-.81-1-1.39-1.9-1.39h-1v-3c0-.55-.45-1-1-1H8v-2h2c.55 0 1-.45 1-1V7h2c1.1 0 2-.9 2-2v-.41c2.93 1.19 5 4.06 5 7.41 0 2.08-.8 3.97-2.1 5.39z"/></svg>
<div class="t " style="left:63.30px;top:829.05px;font-size:14px;color:#e3e5e8;letter-spacing:0.049px;">Crowdsourcing</div>
<svg class="ic" style="left:230.00px;top:827.00px" width="24" height="24" viewBox="0 0 24 24" ><path fill="#757b85" d="M11 18c0 1.1-.9 2-2 2s-2-.9-2-2 .9-2 2-2 2 .9 2 2zm-2-8c-1.1 0-2 .9-2 2s.9 2 2 2 2-.9 2-2-.9-2-2-2zm0-6c-1.1 0-2 .9-2 2s.9 2 2 2 2-.9 2-2-.9-2-2-2zm6 4c1.1 0 2-.9 2-2s-.9-2-2-2-2 .9-2 2 .9 2 2 2zm0 2c-1.1 0-2 .9-2 2s.9 2 2 2 2-.9 2-2-.9-2-2-2zm0 6c-1.1 0-2 .9-2 2s.9 2 2 2 2-.9 2-2-.9-2-2-2z"/></svg>
<div class="abs item" style="top:898px"></div>
<div class="abs ibox" style="left:29px;top:911px;width:26px;height:26px"></div>
<svg class="ic" style="left:33.00px;top:915.00px" width="18" height="18" viewBox="0 0 24 24"><path transform="translate(0,23) scale(1,-1)" fill="#868c96" d="M18.5 6C15.46 6 13 8.46 13 11.5c0 1.33.47 2.55 1.26 3.5H9.74c.79-.95 1.26-2.17 1.26-3.5C11 8.46 8.54 6 5.5 6S0 8.46 0 11.5 2.46 17 5.5 17h13c3.04 0 5.5-2.46 5.5-5.5S21.54 6 18.5 6zm-13 9C3.57 15 2 13.43 2 11.5S3.57 8 5.5 8 9 9.57 9 11.5 7.43 15 5.5 15zm13 0c-1.930 0-3.5-1.57-3.5-3.5S16.57 8 18.5 8 22 9.57 22 11.5 20.430 15 18.5 15z"/></svg>
<div class="t " style="left:63.30px;top:914.05px;font-size:14px;color:#e3e5e8;letter-spacing:0.070px;">Proofreading</div>
<svg class="ic" style="left:230.00px;top:912.00px" width="24" height="24" viewBox="0 0 24 24" ><path fill="#757b85" d="M11 18c0 1.1-.9 2-2 2s-2-.9-2-2 .9-2 2-2 2 .9 2 2zm-2-8c-1.1 0-2 .9-2 2s.9 2 2 2 2-.9 2-2-.9-2-2-2zm0-6c-1.1 0-2 .9-2 2s.9 2 2 2 2-.9 2-2-.9-2-2-2zm6 4c1.1 0 2-.9 2-2s-.9-2-2-2-2 .9-2 2 .9 2 2 2zm0 2c-1.1 0-2 .9-2 2s.9 2 2 2 2-.9 2-2-.9-2-2-2zm0 6c-1.1 0-2 .9-2 2s.9 2 2 2 2-.9 2-2-.9-2-2-2z"/></svg>
<div class="abs item" style="top:966px"></div>
<div class="abs" style="left:0;top:150px;width:271px;height:25px;background:linear-gradient(to bottom,#2c323a 0%,#2c323a 66%,rgba(44,50,58,0) 100%)"></div>
<div class="abs sep" style="top:371px"></div>
<div class="abs sep" style="top:592px"></div>
<div class="abs sep" style="top:881px"></div>
<div class="abs" style="left:49px;top:684px;width:12px;height:12px;border-radius:50%;background:#fff"></div>
<div class="t " style="left:52.75px;top:679.28px;font-size:9px;color:#4a4f58;-webkit-text-stroke:0.2px #4a4f58;">v</div>
<div class="abs" style="left:48px;top:752px;width:12px;height:12px;border-radius:50%;background:#fff"></div>
<div class="t " style="left:51.75px;top:747.28px;font-size:9px;color:#4a4f58;-webkit-text-stroke:0.2px #4a4f58;">v</div>
<div id="header" class="abs"></div><div class="abs" style="left:0;top:0;width:1720px;height:64px;z-index:6">
<svg class="ic" style="left:20.00px;top:20.00px" width="24" height="24" viewBox="0 0 24 24" ><path fill="#aab0b9" d="M20 11H7.83l5.59-5.59L12 4l-8 8 8 8 1.41-1.41L7.83 13H20v-2z"/></svg>
<div class="t " style="left:76.80px;top:21.56px;font-size:23.5px;color:#ffffff;letter-spacing:0.607px;-webkit-text-stroke:0.9px #ffffff;">Nova / Edit workflow</div>
<div class="abs av" style="left:1290px;top:16px;box-shadow:0 0 0 1.5px #383e47"><svg width="32" height="32" viewBox="0 0 32 32"><rect width="32" height="32" fill="#2b2433"/><g filter="url(#bl)"><rect x="-1" y="1" width="10" height="20" fill="#7f9a92"/><rect x="1" y="6" width="7" height="10" fill="#24403a"/><rect x="0" y="16" width="7" height="10" fill="#c9d6d2"/><rect x="22" y="0" width="11" height="20" fill="#c4c0b4"/><path d="M21 14c1-6 3-10 6-11l2 3c-2 2-3 6-4 9z" fill="#c4a284"/><rect x="27" y="10" width="5" height="12" fill="#4a5a52"/><rect x="9" y="0" width="14" height="5" fill="#2c312c"/><path d="M4 32c0-9 3-14 7-15h11c4 1 7 6 7 15z" fill="#2a1f33"/><rect x="24" y="17" width="5" height="11" fill="#5a3a6a"/><rect x="10" y="24" width="12" height="8" fill="#15121a"/><rect x="8.300" y="15" width="3.600" height="11" rx="1" fill="#cfa02c"/><rect x="21" y="15.500" width="3.000" height="10.500" rx="1" fill="#cfa02c"/><ellipse cx="16.300" cy="11" rx="4.300" ry="5" fill="#c9a890"/><path d="M11 17c1-2.500 10-2.500 11 0 0 4-2 6-5.500 6s-5.500-2-5.500-6z" fill="#a5728f"/><ellipse cx="16" cy="5.800" rx="6.200" ry="3.300" fill="#e4dccb"/><rect x="12" y="9.600" width="8.500" height="1.200" fill="#5a4a40"/></g></svg></div><div class="abs av" style="left:1271px;top:16px;box-shadow:0 0 0 1.5px #383e47"><svg width="32" height="32" viewBox="0 0 32 32"><defs><linearGradient id="gb2" x1="0" y1="0" x2="1" y2="0"><stop offset="0" stop-color="#263072"/><stop offset="0.5" stop-color="#372c6c"/><stop offset="1" stop-color="#44295e"/></linearGradient><radialGradient id="gbv2" cx="0.5" cy="0.45" r="0.55"><stop offset="0.5" stop-color="#373d47" stop-opacity="0"/><stop offset="1" stop-color="#373d47" stop-opacity="0.95"/></radialGradient></defs><rect width="32" height="32" fill="url(#gb2)"/><rect width="32" height="32" fill="url(#gbv2)"/><g filter="url(#bl)"><ellipse cx="16" cy="33" rx="13.5" ry="10.5" fill="#8b8580"/><ellipse cx="16.3" cy="14.5" rx="5.7" ry="7.6" fill="#c88f72"/><path d="M10.6 15.5c0 7.5 2.700 10 5.700 10s5.700-2.500 5.700-10c-1.200 3.200-2.700 4-5.700 4s-4.500-.8-5.700-4z" fill="#7a3f24"/><path d="M10.500 12.500c-.3-5.500 2.500-7.300 5.800-7.300s6.100 1.800 5.800 7.300c-1.300-3.300-2.800-4-5.800-4s-4.500.7-5.800 4z" fill="#4a2c1c"/><ellipse cx="16.300" cy="18.800" rx="2" ry=".8" fill="#e8d8cc"/></g></svg></div>
<div class="abs" style="left:1252px;top:16px;width:32px;height:32px;border-radius:50%;background:#fff;box-shadow:0 0 0 1.5px #383e47"></div>
<div class="t " style="left:1338.00px;top:22.15px;font-size:14px;color:#8b919b;letter-spacing:-0.231px;">+4</div>
<div class="abs" style="left:1398px;top:16px;width:1px;height:32px;background:#4a505a"></div>
<svg class="ic" style="left:1433.00px;top:20.00px" width="24" height="24" viewBox="0 0 24 24" ><path fill="#aab0b9" d="M11 18h2v-2h-2v2zm1-16C6.48 2 2 6.48 2 12s4.48 10 10 10 10-4.48 10-10S17.52 2 12 2zm0 18c-4.41 0-8-3.59-8-8s3.59-8 8-8 8 3.59 8 8-3.59 8-8 8zm0-14c-2.21 0-4 1.79-4 4h2c0-1.1.9-2 2-2s2 .9 2 2c0 2-3 1.75-3 5h2c0-2.25 3-2.5 3-5 0-2.21-1.79-4-4-4z"/></svg>
<svg class="ic" style="left:1484.70px;top:20.00px" width="24" height="24" viewBox="0 0 24 24" ><path fill="#aab0b9" d="M12.5 8c-2.65 0-5.05.99-6.9 2.6L2 7v9h9l-3.62-3.62c1.39-1.16 3.16-1.88 5.12-1.88 3.54 0 6.55 2.31 7.6 5.5l2.37-.78C21.08 11.03 17.15 8 12.5 8z"/></svg>
<svg class="ic" style="left:1536.70px;top:20.00px" width="24" height="24" viewBox="0 0 24 24" ><path fill="#636973" d="M18.4 10.6C16.55 8.99 14.15 8 11.5 8c-4.65 0-8.58 3.03-9.96 7.22L3.9 16c1.05-3.19 4.05-5.5 7.6-5.5 1.95 0 3.73.72 5.12 1.88L13 16h9V7l-3.6 3.6z"/></svg>
<div class="abs" style="left:1581px;top:14px;width:69px;height:36px;border-radius:4px;background:#4db356;box-shadow:0 1px 3px rgba(0,0,0,.3)"></div>
<div class="t " style="left:1597.30px;top:22.15px;font-size:14px;color:#ffffff;letter-spacing:0.046px;-webkit-text-stroke:0.4px #ffffff;">SAVE</div>
<svg class="ic" style="left:1670.00px;top:20.00px" width="24" height="24" viewBox="0 0 24 24" ><path fill="#aab0b9" d="M12 8c1.1 0 2-.9 2-2s-.9-2-2-2-2 .9-2 2 .9 2 2 2zm0 2c-1.1 0-2 .9-2 2s.9 2 2 2 2-.9 2-2-.9-2-2-2zm0 6c-1.1 0-2 .9-2 2s.9 2 2 2 2-.9 2-2-.9-2-2-2z"/></svg>
</div>
<div id="right" class="abs"></div>
<div class="abs ibox" style="left:1272px;top:85px;width:30px;height:30px;background:#41474f"></div>
<svg class="ic" style="left:1275.00px;top:88.00px" width="24" height="24" viewBox="0 0 24 24" ><path fill="#ffffff" d="M12.87 15.07l-2.54-2.51.03-.03c1.74-1.94 2.98-4.17 3.71-6.53H17V4h-7V2H8v2H1v1.99h11.17C11.5 7.92 10.44 9.75 9 11.35 8.07 10.32 7.3 9.19 6.69 8h-2c.73 1.63 1.73 3.17 2.98 4.56l-5.09 5.02L4 19l5-5 3.11 3.11.76-2.04zM18.5 10h-2L12 22h2l1.12-3h4.75L21 22h2l-4.5-12zm-2.62 7l1.62-4.33L19.12 17h-3.24z"/></svg>
<div class="t " style="left:1310.80px;top:89.87px;font-size:20px;color:#ffffff;letter-spacing:0.165px;-webkit-text-stroke:0.75px #ffffff;">Translation</div>
<svg class="ic" style="left:1672.00px;top:88.00px" width="24" height="24" viewBox="0 0 24 24" ><path fill="#aab0b9" d="M12 8c1.1 0 2-.9 2-2s-.9-2-2-2-2 .9-2 2 .9 2 2 2zm0 2c-1.1 0-2 .9-2 2s.9 2 2 2 2-.9 2-2-.9-2-2-2zm0 6c-1.1 0-2 .9-2 2s.9 2 2 2 2-.9 2-2-.9-2-2-2z"/></svg>
<div class="t " style="left:1272.30px;top:129.50px;font-size:13px;color:#a3a8b1;letter-spacing:0.032px;">Translate your files with the help of professional translators.</div>
<div class="t " style="left:1272.30px;top:149.90px;font-size:13px;color:#a3a8b1;letter-spacing:0.014px;">Project translation resources will be shared with assigned users</div>
<div class="t " style="left:1272.30px;top:190.54px;font-size:12px;color:#a3a8b1;letter-spacing:-0.127px;">Name</div>
<div class="t " style="left:1272.30px;top:212.66px;font-size:16px;color:#eceef0;letter-spacing:-0.055px;">Translate</div>
<div class="abs" style="left:1272px;top:241px;width:432px;height:1px;background:#444a54"></div>
<div class="abs" style="left:1272px;top:267px;width:432px;height:215px;box-sizing:border-box;border:1px solid #454b55;border-radius:7px;background:#373d47"></div>
<div class="abs" style="left:1273px;top:317px;width:430px;height:1px;background:#4a505a"></div>
<div class="abs" style="left:1287px;top:293px;width:20px;height:5px;background:#4a80e8"></div>
<div class="t " style="left:1321.40px;top:284.35px;font-size:14px;color:#e6e8ea;letter-spacing:-0.004px;">Output</div>
<div class="t " style="left:1289.00px;top:332.84px;font-size:12px;color:#a3a8b1;letter-spacing:0.050px;">Condition of the string to move to the next workflow step</div>
<div class="abs" style="left:1289px;top:362px;width:20px;height:20px;border-radius:50%;border:2px solid #47ab4c;box-sizing:border-box"></div><div class="abs" style="left:1294px;top:367px;width:10px;height:10px;border-radius:50%;background:#47ab4c"></div>
<div class="t " style="left:1319.50px;top:362.15px;font-size:14px;color:#eceef0;letter-spacing:0.015px;">Translated string</div>
<div class="abs" style="left:1289px;top:402px;width:20px;height:20px;border-radius:50%;border:2px solid #b4b9c0;box-sizing:border-box"></div>
<div class="t " style="left:1319.50px;top:401.95px;font-size:14px;color:#eceef0;letter-spacing:-0.066px;">Translated by assigned users</div>
<div class="t " style="left:1319.50px;top:424.34px;font-size:12px;color:#a3a8b1;letter-spacing:-0.022px;">Includes current and former assignees, language coordinators,</div>
<div class="t " style="left:1319.50px;top:445.14px;font-size:12px;color:#a3a8b1;letter-spacing:-0.026px;">translation requestors / developers, managers, admins, and owner</div>
<div class="t " style="left:1272.30px;top:518.64px;font-size:12px;color:#a3a8b1;letter-spacing:-0.098px;">Select languages</div>
<div class="t " style="left:1272.30px;top:542.46px;font-size:16px;color:#6b717b;letter-spacing:-0.045px;">Add more</div>
<div class="abs" style="left:1272px;top:571px;width:428px;height:1px;background:#444a54"></div>
<svg class="ic" style="left:1272px;top:590.5px" width="20" height="20" viewBox="0 0 24 24"><path fill="#a3a8b0" d="M12 2C6.47 2 2 6.47 2 12s4.47 10 10 10 10-4.47 10-10S17.53 2 12 2zm5 13.59L15.59 17 12 13.41 8.41 17 7 15.59 10.59 12 7 8.41 8.41 7 12 10.59 15.59 7 17 8.41 13.41 12 17 15.59z"/></svg>
<div class="t " style="left:1300.20px;top:590.45px;font-size:14px;color:#eceef0;letter-spacing:-0.178px;">French</div>
<svg class="ic" style="left:1272px;top:634.5px" width="20" height="20" viewBox="0 0 24 24"><path fill="#a3a8b0" d="M12 2C6.47 2 2 6.47 2 12s4.47 10 10 10 10-4.47 10-10S17.53 2 12 2zm5 13.59L15.59 17 12 13.41 8.41 17 7 15.59 10.59 12 7 8.41 8.41 7 12 10.59 15.59 7 17 8.41 13.41 12 17 15.59z"/></svg>
<div class="t " style="left:1300.20px;top:634.45px;font-size:14px;color:#eceef0;letter-spacing:-0.261px;">German</div>
<svg class="ic" style="left:1272px;top:678.5px" width="20" height="20" viewBox="0 0 24 24"><path fill="#a3a8b0" d="M12 2C6.47 2 2 6.47 2 12s4.47 10 10 10 10-4.47 10-10S17.53 2 12 2zm5 13.59L15.59 17 12 13.41 8.41 17 7 15.59 10.59 12 7 8.41 8.41 7 12 10.59 15.59 7 17 8.41 13.41 12 17 15.59z"/></svg>
<div class="t " style="left:1300.20px;top:678.45px;font-size:14px;color:#eceef0;letter-spacing:0.092px;">Italian</div>
<svg class="ic" style="left:1272px;top:722.5px" width="20" height="20" viewBox="0 0 24 24"><path fill="#a3a8b0" d="M12 2C6.47 2 2 6.47 2 12s4.47 10 10 10 10-4.47 10-10S17.53 2 12 2zm5 13.59L15.59 17 12 13.41 8.41 17 7 15.59 10.59 12 7 8.41 8.41 7 12 10.59 15.59 7 17 8.41 13.41 12 17 15.59z"/></svg>
<div class="t " style="left:1300.20px;top:722.45px;font-size:14px;color:#eceef0;letter-spacing:0.009px;">Norwegian</div>
<svg class="ic" style="left:1272px;top:766.5px" width="20" height="20" viewBox="0 0 24 24"><path fill="#a3a8b0" d="M12 2C6.47 2 2 6.47 2 12s4.47 10 10 10 10-4.47 10-10S17.53 2 12 2zm5 13.59L15.59 17 12 13.41 8.41 17 7 15.59 10.59 12 7 8.41 8.41 7 12 10.59 15.59 7 17 8.41 13.41 12 17 15.59z"/></svg>
<div class="t " style="left:1300.20px;top:766.45px;font-size:14px;color:#eceef0;letter-spacing:0.062px;">Polish</div>
<svg class="ic" style="left:1272px;top:810.5px" width="20" height="20" viewBox="0 0 24 24"><path fill="#a3a8b0" d="M12 2C6.47 2 2 6.47 2 12s4.47 10 10 10 10-4.47 10-10S17.53 2 12 2zm5 13.59L15.59 17 12 13.41 8.41 17 7 15.59 10.59 12 7 8.41 8.41 7 12 10.59 15.59 7 17 8.41 13.41 12 17 15.59z"/></svg>
<div class="t " style="left:1300.20px;top:809.25px;font-size:14px;color:#f0694a;letter-spacing:-0.010px;">Portuguese</div>
<div class="abs" style="left:1300px;top:829.5px;width:72px;height:0;border-top:1px dashed #f0694a"></div>
<div class="t " style="left:1618.00px;top:811.15px;font-size:14px;color:#eceef0;letter-spacing:0.016px;-webkit-text-stroke:0.25px #eceef0;">ASSIGN</div>
<div class="abs" style="left:1570px;top:584.5px;width:32px;height:32px;border-radius:50%;background:#41464f;border:1px solid #555b65;box-sizing:border-box"></div>
<svg class="ic" style="left:1578.00px;top:592.50px" width="16" height="16" viewBox="0 0 24 24" ><path fill="#b9bdc4" d="M16 11c1.66 0 2.99-1.34 2.99-3S17.66 5 16 5c-1.66 0-3 1.34-3 3s1.34 3 3 3zm-8 0c1.66 0 2.99-1.34 2.99-3S9.66 5 8 5C6.34 5 5 6.34 5 8s1.34 3 3 3zm0 2c-2.33 0-7 1.17-7 3.5V19h14v-2.5c0-2.33-4.67-3.5-7-3.5zm8 0c-.29 0-.62.02-.97.05 1.16.84 1.97 1.97 1.97 3.45V19h6v-2.5c0-2.33-4.67-3.5-7-3.5z"/></svg>
<div class="abs" style="left:1648px;top:760.5px;width:32px;height:32px;border-radius:50%;background:#41464f;border:1px solid #555b65;box-sizing:border-box"></div>
<svg class="ic" style="left:1656.00px;top:768.50px" width="16" height="16" viewBox="0 0 24 24" ><path fill="#b9bdc4" d="M16 11c1.66 0 2.99-1.34 2.99-3S17.66 5 16 5c-1.66 0-3 1.34-3 3s1.34 3 3 3zm-8 0c1.66 0 2.99-1.34 2.99-3S9.66 5 8 5C6.34 5 5 6.34 5 8s1.34 3 3 3zm0 2c-2.33 0-7 1.17-7 3.5V19h14v-2.5c0-2.33-4.67-3.5-7-3.5zm8 0c-.29 0-.62.02-.97.05 1.16.84 1.97 1.97 1.97 3.45V19h6v-2.5c0-2.33-4.67-3.5-7-3.5z"/></svg>
<div class="abs av" style="left:1609px;top:584.5px"><svg width="32" height="32" viewBox="0 0 32 32"><defs><linearGradient id="gb" x1="0" y1="0" x2="1" y2="0"><stop offset="0" stop-color="#263072"/><stop offset="0.5" stop-color="#372c6c"/><stop offset="1" stop-color="#44295e"/></linearGradient><radialGradient id="gbv" cx="0.5" cy="0.45" r="0.55"><stop offset="0.5" stop-color="#2c313a" stop-opacity="0"/><stop offset="1" stop-color="#2c313a" stop-opacity="0.95"/></radialGradient></defs><rect width="32" height="32" fill="url(#gb)"/><rect width="32" height="32" fill="url(#gbv)"/><g filter="url(#bl)"><ellipse cx="16" cy="33" rx="13.5" ry="10.5" fill="#8b8580"/><ellipse cx="16.3" cy="14.5" rx="5.7" ry="7.6" fill="#c88f72"/><path d="M10.6 15.5c0 7.5 2.700 10 5.700 10s5.700-2.500 5.700-10c-1.200 3.200-2.700 4-5.700 4s-4.500-.8-5.700-4z" fill="#7a3f24"/><path d="M10.500 12.500c-.3-5.500 2.500-7.300 5.800-7.300s6.100 1.800 5.800 7.300c-1.300-3.300-2.800-4-5.800-4s-4.500.7-5.800 4z" fill="#4a2c1c"/><ellipse cx="16.300" cy="18.800" rx="2" ry=".8" fill="#e8d8cc"/></g></svg></div>
<div class="abs av" style="left:1648px;top:584.5px"><svg width="32" height="32" viewBox="0 0 32 32"><rect width="32" height="32" fill="#2b2433"/><g filter="url(#bl)"><rect x="-1" y="1" width="10" height="20" fill="#7f9a92"/><rect x="1" y="6" width="7" height="10" fill="#24403a"/><rect x="0" y="16" width="7" height="10" fill="#c9d6d2"/><rect x="22" y="0" width="11" height="20" fill="#c4c0b4"/><path d="M21 14c1-6 3-10 6-11l2 3c-2 2-3 6-4 9z" fill="#c4a284"/><rect x="27" y="10" width="5" height="12" fill="#4a5a52"/><rect x="9" y="0" width="14" height="5" fill="#2c312c"/><path d="M4 32c0-9 3-14 7-15h11c4 1 7 6 7 15z" fill="#2a1f33"/><rect x="24" y="17" width="5" height="11" fill="#5a3a6a"/><rect x="10" y="24" width="12" height="8" fill="#15121a"/><rect x="8.300" y="15" width="3.600" height="11" rx="1" fill="#cfa02c"/><rect x="21" y="15.500" width="3.000" height="10.500" rx="1" fill="#cfa02c"/><ellipse cx="16.300" cy="11" rx="4.300" ry="5" fill="#c9a890"/><path d="M11 17c1-2.500 10-2.500 11 0 0 4-2 6-5.500 6s-5.500-2-5.500-6z" fill="#a5728f"/><ellipse cx="16" cy="5.800" rx="6.200" ry="3.300" fill="#e4dccb"/><rect x="12" y="9.600" width="8.500" height="1.200" fill="#5a4a40"/></g></svg></div>
<div class="abs av" style="left:1609px;top:628.5px"><svg width="32" height="32" viewBox="0 0 32 32"><rect width="32" height="32" fill="#d6d2ca"/><g filter="url(#bl)"><rect x="2" y="5" width="9" height="19" fill="#3a2e24"/><rect x="0" y="6" width="4" height="14" fill="#b7ab98"/><rect x="5" y="4" width="5" height="6" fill="#8a7a62"/><rect x="22" y="1" width="10" height="14" fill="#f1efeb"/><rect x="22" y="14.500" width="10" height="6.500" fill="#7a3a1c"/><rect x="23" y="17" width="9" height="2" fill="#c9b9a5"/><path d="M2 32c1-7 5-10 10-11.500h9c5 1.500 9 4.500 10 11.500z" fill="#d3dce6"/><path d="M14.500 20.500h4.500l-1.500 10h-1.500z" fill="#e2b29c"/><ellipse cx="16.800" cy="14.800" rx="5.200" ry="6.800" fill="#d7a78f"/><path d="M11.400 12c-.6-6.500 2.400-9.600 5.600-9.600s6.200 3.100 5.600 9.600c-1.200-3.300-2.700-4-5.600-4s-4.400.7-5.600 4z" fill="#3a2a20"/></g></svg></div>
<div class="abs av" style="left:1648px;top:628.5px"><svg width="32" height="32" viewBox="0 0 32 32"><rect width="32" height="32" fill="#7a8560"/><g filter="url(#bl)"><rect x="0" y="0" width="9" height="14" fill="#6c7b4c"/><rect x="22" y="2" width="10" height="14" fill="#8f9a78"/><rect x="0" y="12" width="6" height="10" fill="#b08a58"/><rect x="10" y="0" width="12" height="4" fill="#b5b39c"/><path d="M4 32c-1-10 1-27 12-28.500 10 0 13 10 12.500 28.500z" fill="#9c5a3e"/><path d="M7 32c0-4 3-6 7-6.500h6c4 .5 7 3 7 6.500z" fill="#c98c6c"/><ellipse cx="15" cy="12.500" rx="4.600" ry="6" fill="#d9a88f"/><path d="M10 12c0-6 4-8 7-7.500 3 .5 5 4 4 10-1-4-2-6-4-6.500-2 2-5 3-7 4z" fill="#8f4a30"/><path d="M19 10c4 2 6 10 5 18l-4-1c1-6 0-12-1-17z" fill="#a8633f"/></g></svg></div>
<div class="abs av" style="left:1648px;top:672.5px"><svg width="32" height="32" viewBox="0 0 32 32"><rect width="32" height="32" fill="#d9d6d1"/><g filter="url(#bl)"><rect x="18" y="0" width="14" height="12" fill="#e6e4e1"/><ellipse cx="12" cy="7" rx="6" ry="3.500" fill="#a3765a"/><ellipse cx="5.500" cy="17" rx="4.500" ry="9" fill="#8a4f30"/><ellipse cx="15" cy="17" rx="11.500" ry="11.500" fill="#2e1a10"/><ellipse cx="22.500" cy="26" rx="3.500" ry="4" fill="#7a4424"/><ellipse cx="15.400" cy="19" rx="3.900" ry="5" fill="#b87a52"/><ellipse cx="16" cy="21" rx="1.800" ry=".8" fill="#f0e4dc"/><path d="M15 32c0-4 1-7 3-8.500 2 .5 4 3 4 8.500z" fill="#dba27c"/></g></svg></div>
<div class="abs av" style="left:1648px;top:716.5px"><svg width="32" height="32" viewBox="0 0 32 32"><rect width="32" height="32" fill="#5b554d"/><g filter="url(#bl)"><rect x="0" y="7" width="3" height="12" fill="#d5d5d8"/><rect x="3" y="3" width="6" height="20" fill="#4c4844"/><rect x="7" y="0" width="7" height="10" fill="#8a6a4a"/><rect x="23" y="3" width="9" height="20" fill="#9a8a62"/><rect x="22" y="3" width="3" height="16" fill="#6a5a40"/><rect x="0" y="19" width="12" height="13" fill="#26262a"/><ellipse cx="9" cy="25" rx="2.800" ry="2.600" fill="#dcae8e"/><path d="M13 32l5-12 7-1c4 2 7 6 7 13z" fill="#6b5b49"/><path d="M13.500 32c0-7 1-13 3-16.500l6.500-1.500c.5 3-1 6-3 8l-3.500 10z" fill="#131318"/><ellipse cx="16.300" cy="12.500" rx="5" ry="6" fill="#c79d7d"/><path d="M12 9c0-4.500 3-6 6-6s5 1.500 4.500 5c-3-1.500-7-1.500-10.500 1z" fill="#7a5530"/><path d="M19.500 10c2 1 2.500 5 1 8l-2.500 1c1.500-3 2-6 1.500-9z" fill="#8a6a4c"/><rect x="10.500" y="10.300" width="10.500" height="1.100" fill="#2a2420"/></g></svg></div>
</div>
</body></html>
